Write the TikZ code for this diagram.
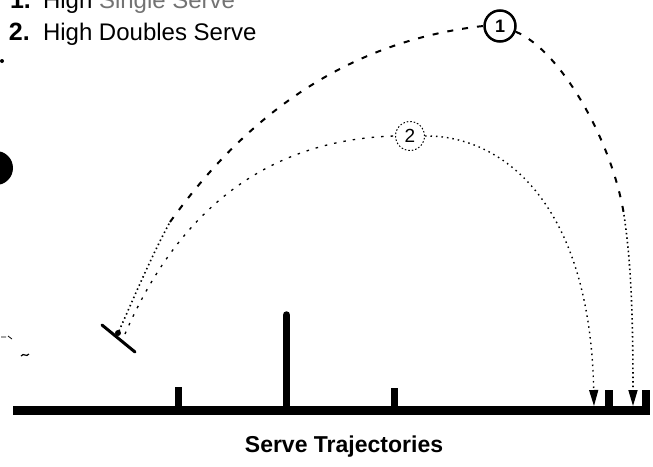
\documentclass[tikz,border=0pt]{standalone}
\usepackage{fontspec}
\setmainfont{Liberation Sans}
\usetikzlibrary{arrows.meta}
\begin{document}
\begin{tikzpicture}[x=1pt,y=-1pt,
  lbl/.style={inner sep=0pt,outer sep=0pt,anchor=base west,font=\fontsize{24}{28}\selectfont},
  numlbl/.style={lbl,font=\bfseries\fontsize{25}{28}\selectfont},
  post/.style={line width=7.5pt},
  traj1/.style={line width=2pt,dash pattern=on 6pt off 9pt},
  dots1/.style={line width=1.6pt,dash pattern=on 1.5pt off 3pt},
  traj2/.style={line width=1.3pt,dash pattern=on 2.5pt off 7pt},
  dots2/.style={line width=1.4pt,dash pattern=on 1.5pt off 4pt},
  tip/.style={-{Triangle[length=16pt,width=9pt]}},
  ]
\useasboundingbox (0,0) rectangle (653,466);
\clip (0,0) rectangle (653,466);

% legend texts
\node[numlbl] (n1) at (10,8) {1.};
\node[lbl] (t1) at (43,8) {High \textcolor{black!55}{Single Serve}};
\node[numlbl] (n2) at (9,40) {2.};
\node[lbl] (t2) at (43,40) {High Doubles Serve};

% left-edge marks
\fill (-4,168) circle[radius=17pt];
\fill (2,61) circle[radius=2pt];
\draw[line width=0.8pt] (1,337) -- (6,337) (8,336) -- (12,339);
\draw[line width=1.2pt] (21,356) .. controls (24,352) and (26,358) .. (29,354);

% racket
\coordinate (ra) at (102,325);
\coordinate (rb) at (135,352);
\draw[line width=3pt,line cap=round] (ra) -- (rb);
\fill (118,333) circle[radius=3pt];

% label circles
\node[circle,draw,line width=2.5pt,minimum size=31pt,inner sep=0pt,
      font=\bfseries\fontsize{18}{18}\selectfont] (c1) at (500,26) {1};
\node[circle,draw,line width=1pt,dash pattern=on 1.5pt off 2pt,minimum size=29pt,
      inner sep=0pt,font=\fontsize{19}{19}\selectfont] (c2) at (410,136) {2};

% trajectory points
\coordinate (r1) at (119,331);
\coordinate (r2) at (125,334);
\coordinate (k1) at (170,222);
\coordinate (m1) at (624,215);
\coordinate (g1) at (633,406);
\coordinate (g2) at (594,406);

% trajectory 1
\draw[dots1] (r1) .. controls (135,295) and (152,255) .. (k1);
\draw[traj1] (k1) .. controls (215,160) and (310,45) .. (c1.west);
\draw[traj1] (c1.-20) .. controls (560,50) and (612,140) .. (m1);
\draw[dots1,tip] (m1) .. controls (629,250) and (633,290) .. (g1);

% trajectory 2
\draw[traj2] (r2) .. controls (170,230) and (250,140) .. (c2.west);
\draw[dots2,tip] (c2.east) .. controls (500,135) and (590,200) .. (g2);

% floor and posts
\coordinate (f0) at (13,410);
\coordinate (f1) at (650,410);
\draw[line width=9pt] (f0) -- (f1);
\draw[post,line cap=round] (286.5,410) -- (286.5,315);
\draw[post] (178.5,410) -- (178.5,387);
\draw[post] (394.5,410) -- (394.5,388);
\draw[line width=8pt] (609,410) -- (609,390);
\draw[line width=8pt] (646,410) -- (646,390);

% caption
\node[anchor=base,inner sep=0pt,font=\bfseries\fontsize{23}{28}\selectfont] (cap) at (344,452) {Serve Trajectories};
\end{tikzpicture}
\end{document}
